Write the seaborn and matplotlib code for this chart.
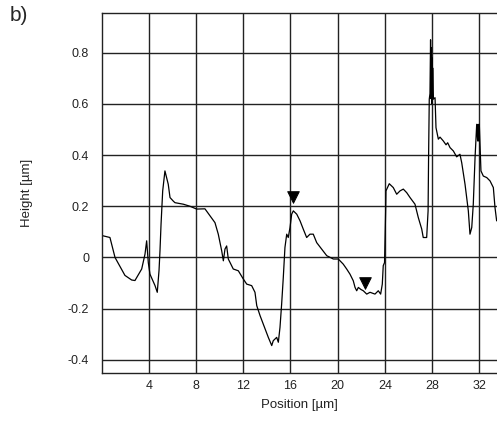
import numpy as np
import pandas as pd
import matplotlib
matplotlib.use('Agg')
import matplotlib.pyplot as plt
import seaborn as sns

# profile (position in um, height in um), 10 per row
position = [0.08, 0.70, 1.13, 1.97, 2.54, 2.82, 3.39, 3.67, 3.81, 3.95,
            4.09, 4.52, 4.71, 4.86, 4.94, 5.03, 5.17, 5.36, 5.64, 5.79,
            6.07, 6.21, 6.92, 7.48, 8.05, 8.75, 9.18, 9.60, 9.88, 10.17,
            10.31, 10.45, 10.59, 10.73, 11.15, 11.58, 12.00, 12.29, 12.71, 12.99,
            13.14, 13.42, 13.69, 14.12, 14.41, 14.54, 14.83, 14.97, 15.11, 15.25,
            15.39, 15.53, 15.68, 15.81, 15.96, 16.10, 16.24, 16.53, 16.81, 17.08,
            17.37, 17.65, 17.93, 18.22, 18.64, 19.07, 19.63, 20.05, 20.47, 20.76,
            21.04, 21.32, 21.47, 21.61, 21.75, 21.97, 22.17, 22.46, 22.74, 23.16,
            23.44, 23.64, 23.78, 23.86, 23.97, 24.07, 24.09, 24.37, 24.71, 25.00,
            25.28, 25.56, 25.85, 26.13, 26.55, 26.83, 27.12, 27.25, 27.54, 27.66,
            27.70, 27.76, 27.82, 27.87, 27.91, 27.94, 27.97, 28.00, 28.03, 28.05,
            28.10, 28.25, 28.33, 28.53, 28.67, 28.95, 29.18, 29.32, 29.52, 29.80,
            30.08, 30.36, 30.51, 30.79, 31.07, 31.21, 31.36, 31.49, 31.64, 31.78,
            31.86, 31.90, 31.94, 32.00, 32.05, 32.14, 32.34, 32.63, 32.91, 33.19,
            33.33, 33.47]
height = [0.085, 0.078, 0.000, -0.070, -0.088, -0.090, -0.045, 0.013, 0.065, -0.020,
          -0.065, -0.110, -0.136, -0.050, 0.026, 0.130, 0.260, 0.338, 0.286, 0.234,
          0.220, 0.214, 0.208, 0.200, 0.189, 0.190, 0.163, 0.136, 0.091, 0.026,
          -0.013, 0.033, 0.045, -0.006, -0.045, -0.052, -0.084, -0.104, -0.110, -0.136,
          -0.188, -0.227, -0.260, -0.312, -0.344, -0.325, -0.312, -0.331, -0.273, -0.182,
          -0.078, 0.039, 0.091, 0.078, 0.117, 0.169, 0.182, 0.169, 0.143, 0.111,
          0.078, 0.091, 0.091, 0.058, 0.033, 0.007, -0.006, -0.006, -0.026, -0.045,
          -0.065, -0.091, -0.117, -0.130, -0.117, -0.125, -0.130, -0.143, -0.136, -0.143,
          -0.130, -0.143, -0.104, -0.032, -0.020, 0.195, 0.260, 0.288, 0.273, 0.247,
          0.260, 0.267, 0.253, 0.234, 0.208, 0.156, 0.111, 0.078, 0.078, 0.182,
          0.384, 0.618, 0.640, 0.850, 0.620, 0.820, 0.600, 0.780, 0.620, 0.740,
          0.618, 0.624, 0.507, 0.462, 0.470, 0.455, 0.440, 0.448, 0.429, 0.416,
          0.393, 0.403, 0.370, 0.286, 0.182, 0.091, 0.117, 0.208, 0.390, 0.520,
          0.455, 0.520, 0.455, 0.520, 0.455, 0.338, 0.318, 0.312, 0.299, 0.273,
          0.195, 0.143]

# section markers (down triangles)
marker_pos = [16.24, 22.30]
marker_height = [0.235, -0.10]

x_ticks = [4, 8, 12, 16, 20, 24, 28, 32]
y_ticks = [-0.4, -0.2, 0, 0.2, 0.4, 0.6, 0.8]
y_tick_labels = ['-0.4', '-0.2', '0', '0.2', '0.4', '0.6', '0.8']

sns.set_style('white')
plt.rcParams['font.family'] = ['Liberation Sans', 'DejaVu Sans']

df = pd.DataFrame({'pos': position, 'h': height})
dfm = pd.DataFrame({'pos': marker_pos, 'h': marker_height})

fig = plt.figure(figsize=(4.97, 4.22), dpi=100)
ax = fig.add_axes([0.2046, 0.1168, 0.7954, 0.8532])

sns.lineplot(data=df, x='pos', y='h', ax=ax, color='black', linewidth=0.9,
             estimator=None, sort=False)
sns.scatterplot(data=dfm, x='pos', y='h', ax=ax, marker='v', color='black',
                s=70, edgecolor='black', zorder=5)

ax.set_xlim(0, 33.5)
ax.set_ylim(-0.45, 0.956)
ax.set_xticks(x_ticks)
ax.set_yticks(y_ticks)
ax.set_yticklabels(y_tick_labels)
ax.grid(True, color='#222222', linewidth=1.0)
ax.set_axisbelow(True)
ax.tick_params(length=0, labelsize=9, colors='#222222')
ax.tick_params(axis='y', pad=9)
ax.tick_params(axis='x', pad=5)
for s in ['left', 'top', 'bottom']:
    ax.spines[s].set_color('#222222')
    ax.spines[s].set_linewidth(1.0)
ax.spines['right'].set_visible(False)

ax.set_xlabel('Position [µm]', fontsize=9.5, color='#222222', labelpad=5)
ax.set_ylabel('Height [µm]', fontsize=9.5, color='#222222', labelpad=25)
fig.text(0.02, 0.985, 'b)', fontsize=15, va='top', ha='left')

fig.savefig('out.png', dpi=100)
